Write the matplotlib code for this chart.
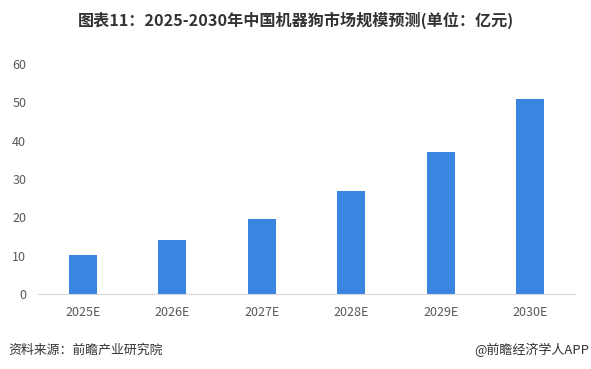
import matplotlib
matplotlib.use("Agg")
import matplotlib.pyplot as plt

plt.rcParams['font.family'] = ['Noto Sans CJK SC', 'DejaVu Sans']

categories = ["2025E", "2026E", "2027E", "2028E", "2029E", "2030E"]
values = [10.2, 14.1, 19.6, 26.9, 37.0, 50.9]
yticks = [0, 10, 20, 30, 40, 50, 60]

title = "图表11：2025-2030年中国机器狗市场规模预测(单位：亿元)"
source = "资料来源：前瞻产业研究院"
credit = "@前瞻经济学人APP"

fig = plt.figure(figsize=(5.91, 3.69), dpi=100)
ax = fig.add_axes([38/591, 1-294/369, (575-38)/591, (294-64)/369])

x = range(len(categories))
ax.bar(x, values, width=0.31, color="#3a84e2", zorder=2)
ax.set_xlim(-0.5, len(categories)-0.5)
ax.set_ylim(0, 60)
ax.set_yticks(yticks)
ax.set_yticklabels([str(v) for v in yticks])
ax.set_xticks(list(x))
ax.set_xticklabels(categories)
for s in ["top", "right", "left"]:
    ax.spines[s].set_visible(False)
ax.spines["bottom"].set_color("#d9d9d9")
ax.tick_params(axis="both", length=0, labelsize=9, colors="#595959")
ax.tick_params(axis="y", pad=8.5)
ax.tick_params(axis="x", pad=9)

fig.text(0.5, 1-20/369, title, ha="center", va="center", fontsize=11.6,
         fontweight="bold", color="#333333")
fig.text(8/591, 1-350/369, source, ha="left", va="center", fontsize=9.3, color="#333333")
fig.text(589/591, 1-350/369, credit, ha="right", va="center", fontsize=9.4, color="#333333")

fig.savefig("out.png", dpi=100)
